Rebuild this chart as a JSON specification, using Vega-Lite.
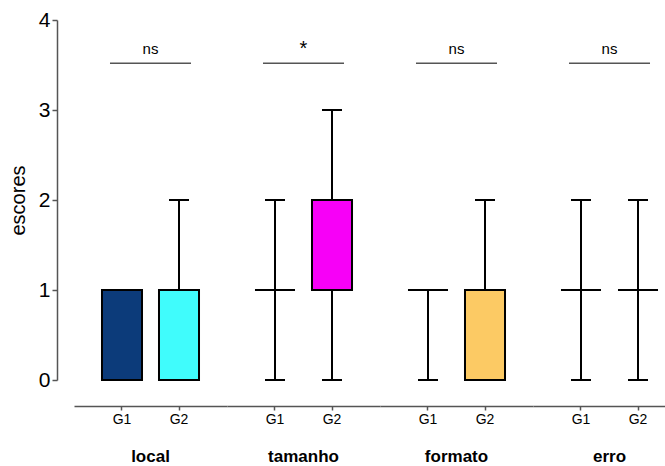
{
  "$schema": "https://vega.github.io/schema/vega-lite/v6.json",
  "autosize": {"type": "pad"},
  "padding": {"left": 8, "top": 9, "right": 0, "bottom": 0},
  "background": "white",
  "config": {"font": "Liberation Sans", "view": {"stroke": null}, "axis": {"grid": false}},
  "data": {"values": [
    {"group": "local", "sub": "G1", "box": "local G1", "min": 0, "q1": 0, "median": 1, "q3": 1, "max": 1, "sig": "ns"},
    {"group": "local", "sub": "G2", "box": "local G2", "min": 0, "q1": 0, "median": 1, "q3": 1, "max": 2, "sig": "ns"},
    {"group": "tamanho", "sub": "G1", "box": "tamanho G1", "min": 0, "q1": 1, "median": 1, "q3": 1, "max": 2, "sig": "*"},
    {"group": "tamanho", "sub": "G2", "box": "tamanho G2", "min": 0, "q1": 1, "median": 2, "q3": 2, "max": 3, "sig": "*"},
    {"group": "formato", "sub": "G1", "box": "formato G1", "min": 0, "q1": 1, "median": 1, "q3": 1, "max": 1, "sig": "ns"},
    {"group": "formato", "sub": "G2", "box": "formato G2", "min": 0, "q1": 0, "median": 1, "q3": 1, "max": 2, "sig": "ns"},
    {"group": "erro", "sub": "G1", "box": "erro G1", "min": 0, "q1": 1, "median": 1, "q3": 1, "max": 2, "sig": "ns"},
    {"group": "erro", "sub": "G2", "box": "erro G2", "min": 0, "q1": 1, "median": 1, "q3": 1, "max": 2, "sig": "ns"}
  ]},
  "facet": {
    "column": {
      "field": "group", "type": "nominal",
      "sort": ["local", "tamanho", "formato", "erro"],
      "header": {"title": null, "labelOrient": "bottom", "labelFontSize": 17, "labelFontWeight": "bold", "labelPadding": 23, "labelColor": "black", "labelFont": "Liberation Sans"}
    }
  },
  "spacing": 0,
  "spec": {
    "width": 153,
    "height": 360,
    "encoding": {
      "x": {
        "field": "sub", "type": "nominal",
        "scale": {"domain": ["G1", "G2"], "paddingInner": 0.298, "paddingOuter": 0.491},
        "axis": {"title": null, "labelAngle": 0, "labelFontSize": 14, "labelColor": "black", "domainColor": "#555555", "domainWidth": 1.5, "tickColor": "#555555", "tickWidth": 1.5, "tickSize": 4, "labelPadding": 2, "offset": 25}
      }
    },
    "layer": [
      {
        "mark": {"type": "rule", "color": "black", "strokeWidth": 2},
        "encoding": {
          "y": {"field": "q3", "type": "quantitative", "scale": {"domain": [0, 4], "nice": false},
            "axis": {"title": "escores", "titleFontSize": 20, "titleFontWeight": "normal", "titleColor": "black", "titlePadding": 10, "values": [0, 1, 2, 3, 4], "format": "d", "labelFontSize": 21, "labelColor": "black", "labelPadding": 2, "domainColor": "#555555", "domainWidth": 1.5, "tickColor": "#555555", "tickWidth": 1.5, "tickSize": 5, "offset": 17}},
          "y2": {"field": "max"}
        }
      },
      {
        "mark": {"type": "rule", "color": "black", "strokeWidth": 2},
        "encoding": {
          "y": {"field": "min", "type": "quantitative"},
          "y2": {"field": "q1"}
        }
      },
      {
        "transform": [{"filter": "datum.max > datum.q3"}],
        "mark": {"type": "tick", "color": "black", "size": 20, "thickness": 2, "opacity": 1},
        "encoding": {"y": {"field": "max", "type": "quantitative"}}
      },
      {
        "transform": [{"filter": "datum.min < datum.q1"}],
        "mark": {"type": "tick", "color": "black", "size": 20, "thickness": 2, "opacity": 1},
        "encoding": {"y": {"field": "min", "type": "quantitative"}}
      },
      {
        "mark": {"type": "bar", "stroke": "black", "strokeWidth": 2, "opacity": 1},
        "encoding": {
          "y": {"field": "q1", "type": "quantitative"},
          "y2": {"field": "q3"},
          "color": {"field": "box", "type": "nominal", "legend": null,
            "scale": {"domain": ["local G1", "local G2", "tamanho G1", "tamanho G2", "formato G1", "formato G2", "erro G1", "erro G2"],
              "range": ["#0c3b7a", "#40fcfc", "#ffffff", "#f700f7", "#ffffff", "#fcca64", "#ffffff", "#ffffff"]}}
        }
      },
      {
        "mark": {"type": "tick", "color": "black", "size": 40, "thickness": 2, "opacity": 1},
        "encoding": {"y": {"field": "median", "type": "quantitative"}}
      },
      {
        "transform": [{"filter": "datum.sub == 'G1'"}],
        "mark": {"type": "rule", "color": "#555555", "strokeWidth": 1.5},
        "encoding": {
          "x": {"datum": "G1", "bandPosition": 0.2},
          "x2": {"datum": "G2", "bandPosition": 0.8},
          "y": {"datum": 3.52, "type": "quantitative"}
        }
      },
      {
        "transform": [{"filter": "datum.sub == 'G1'"}],
        "mark": {"type": "text", "color": "black", "dx": 28.5, "baseline": "middle"},
        "encoding": {
          "x": {"datum": "G1"},
          "y": {"datum": 3.68, "type": "quantitative"},
          "text": {"field": "sig"},
          "size": {"condition": {"test": "datum.sig == '*'", "value": 20}, "value": 15}
        }
      }
    ]
  }
}
